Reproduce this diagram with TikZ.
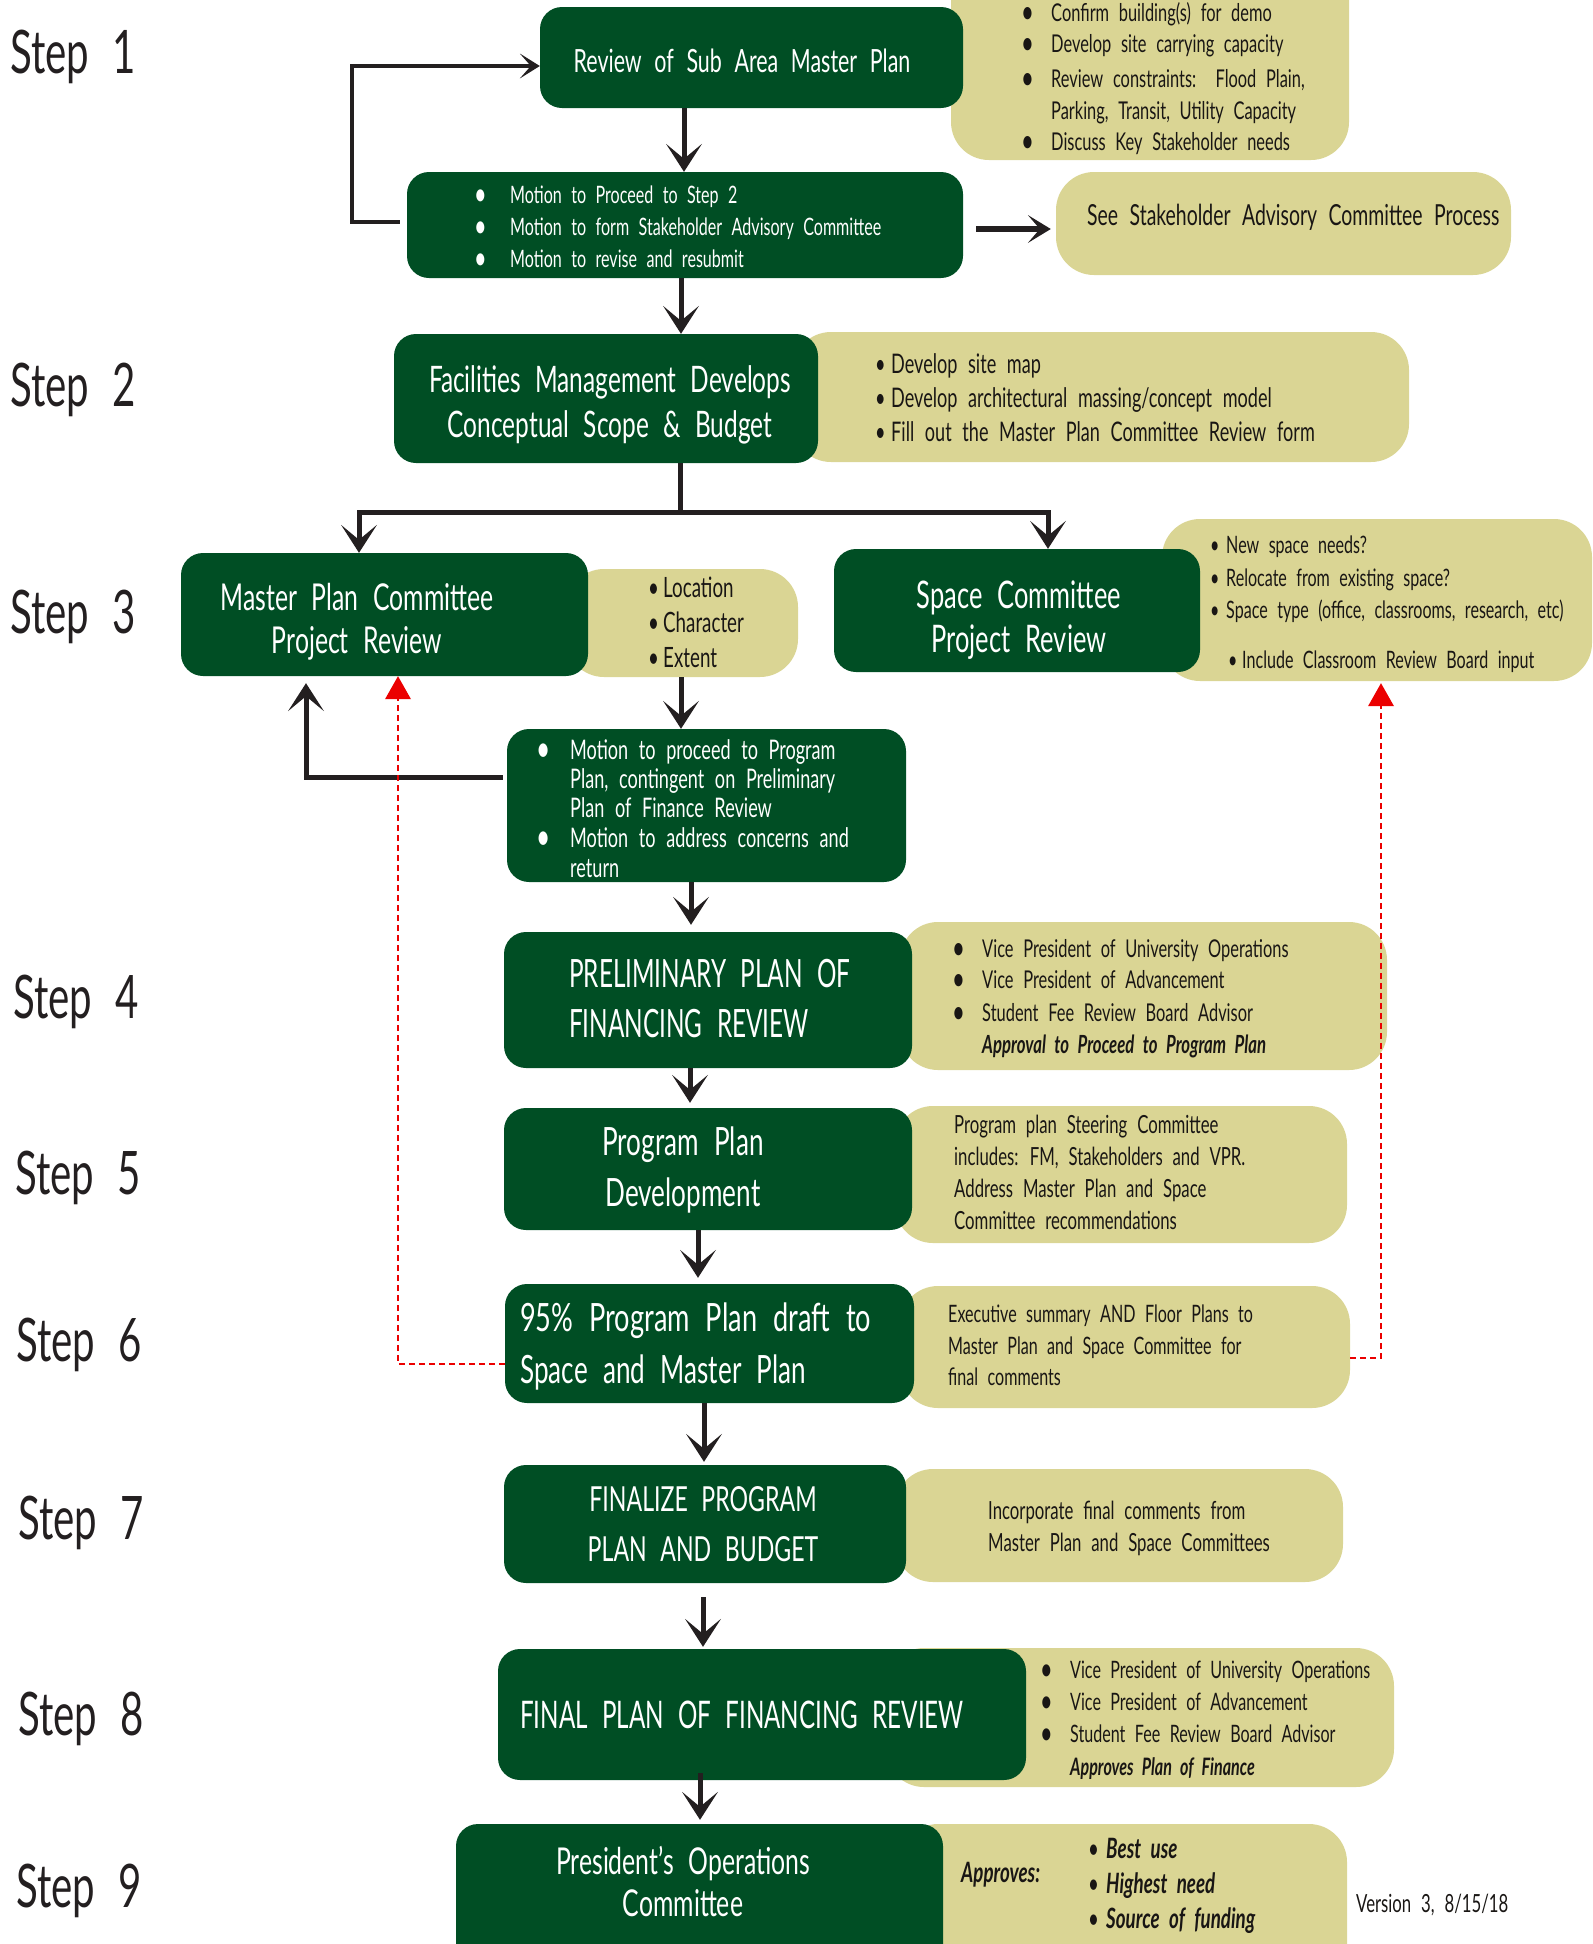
\documentclass[tikz,border=0pt]{standalone}
\usepackage{fontspec}
\setmainfont{Lato}[FakeStretch=0.67, WordSpace=2.3]
\usetikzlibrary{arrows.meta}
\definecolor{gfill}{RGB}{0,78,36}
\definecolor{tfill}{RGB}{218,213,148}
\definecolor{arrcol}{RGB}{35,31,32}
\definecolor{ktext}{RGB}{25,22,20}
\definecolor{stepcol}{RGB}{35,31,32}
\definecolor{redarr}{RGB}{235,0,0}
\newcommand\rbox[6]{\node[#1, minimum width={(#5-(#3))*1pt}, minimum height={(#6-(#4))*1pt}] (#2) at ({(#3+#5)/2},{(#4+(#6))/2}) {};}
\newcommand\tx[6]{\node[#1, font=\fontsize{#5}{#5}\selectfont] (#2) at (#3,#4) {#6};}
\newcommand\bul[2]{\makebox[#1pt][l]{\raisebox{-0.1em}{\scalebox{1.35}{\textbullet}}}#2}
\newcommand\sbul[2]{\makebox[#1pt][l]{\textbullet}#2}
\newcommand\bi[1]{{\bfseries\itshape #1}}
\tikzset{
  gbox/.style={fill=gfill, rounded corners=22pt, inner sep=0pt, draw=none},
  tbox/.style={fill=tfill, rounded corners=38pt, inner sep=0pt, draw=none},
  wl/.style={text=white, anchor=base west, inner sep=0pt},
  wc/.style={text=white, anchor=base, inner sep=0pt},
  kl/.style={text=ktext, anchor=base west, inner sep=0pt},
  steplbl/.style={text=stepcol, anchor=base west, inner sep=0pt},
  plainline/.style={draw=arrcol, line width=5pt},
  arr/.style={draw=arrcol, line width=5pt, -{Stealth[length=28pt,width=36pt,inset=15pt,line width=0pt]}},
  sarr/.style={draw=arrcol, line width=4pt, -{Stealth[length=20pt,width=25pt,inset=11pt,line width=0pt]}},
  sarrb/.style={draw=arrcol, line width=5.5pt, -{Stealth[length=23pt,width=28pt,inset=12pt,line width=0pt]}},
  rarr/.style={draw=redarr, line width=2.2pt, dash pattern=on 6pt off 4pt, -{Triangle[length=23pt,width=26pt,line width=0pt]}}
}
\begin{document}
\begin{tikzpicture}[x=1pt,y=-1pt]
\useasboundingbox (0,0) rectangle (1593,1944);
% step labels
\tx{steplbl}{s1}{10}{73}{60}{Step 1}
\tx{steplbl}{s2}{10}{406}{60}{Step 2}
\tx{steplbl}{s3}{10}{633}{60}{Step 3}
\tx{steplbl}{s4}{13}{1018}{60}{Step 4}
\tx{steplbl}{s5}{15}{1194}{60}{Step 5}
\tx{steplbl}{s6}{16}{1361}{60}{Step 6}
\tx{steplbl}{s7}{18}{1539}{60}{Step 7}
\tx{steplbl}{s8}{18}{1735}{60}{Step 8}
\tx{steplbl}{s9}{16}{1907}{60}{Step 9}
% tan boxes (behind)
\rbox{tbox}{T1}{951}{-40}{1349}{160}
\rbox{tbox}{T2}{1056}{172}{1511}{275}
\rbox{tbox}{T3}{793}{332}{1409}{462}
\rbox{tbox}{T4}{566}{569}{798}{677}
\rbox{tbox}{T5}{1162}{519}{1592}{681}
\rbox{tbox}{T6}{900}{922}{1387}{1070}
\rbox{tbox}{T7}{895}{1106}{1347}{1243}
\rbox{tbox}{T8}{900}{1286}{1350}{1408}
\rbox{tbox}{T9}{895}{1469}{1343}{1582}
\rbox{tbox}{T10}{886}{1648}{1394}{1787}
\rbox{tbox}{T11}{900}{1824}{1347}{1990}
% green boxes
\rbox{gbox}{A}{540}{7}{963}{108}
\rbox{gbox}{B}{407}{172}{963}{278}
\rbox{gbox}{C}{394}{334}{818}{463}
\rbox{gbox}{D}{181}{553}{588}{676}
\rbox{gbox}{E}{834}{549}{1200}{672}
\rbox{gbox}{F}{507}{729}{906}{882}
\rbox{gbox}{G}{504}{932}{912}{1068}
\rbox{gbox}{I}{504}{1108}{912}{1230}
\rbox{gbox}{H}{505}{1284}{914}{1403}
\rbox{gbox}{J}{504}{1465}{906}{1583}
\rbox{gbox}{K}{498}{1649}{1026}{1780}
\rbox{gbox}{L}{456}{1824}{943}{1990}
% texts step 1
\tx{wc}{a1}{742}{72}{32}{Review of Sub Area Master Plan}
\tx{kl}{t1a}{1021}{21}{24.5}{\bul{30}{Confirm building(s) for demo}}
\tx{kl}{t1b}{1021}{52}{24.5}{\bul{30}{Develop site carrying capacity}}
\tx{kl}{t1c}{1021}{87}{24.5}{\bul{30}{Review constraints:\ \ Flood Plain,}}
\tx{kl}{t1d}{1051}{119}{24.5}{Parking, Transit, Utility Capacity}
\tx{kl}{t1e}{1021}{150}{24.5}{\bul{30}{Discuss Key Stakeholder needs}}
\tx{wl}{b1}{474}{203}{24}{\bul{36}{Motion to Proceed to Step 2}}
\tx{wl}{b2}{474}{235}{24}{\bul{36}{Motion to form Stakeholder Advisory Committee}}
\tx{wl}{b3}{474}{267}{24}{\bul{36}{Motion to revise and resubmit}}
\tx{kl}{t2a}{1087}{225}{29}{See Stakeholder Advisory Committee Process}
% step 2
\tx{wc}{c1}{610}{392}{36.5}{Facilities Management Develops}
\tx{wc}{c2}{610}{437}{36.5}{Conceptual Scope \& Budget}
\tx{kl}{t3a}{875}{373}{27}{\sbul{16}{Develop site map}}
\tx{kl}{t3b}{875}{407}{27}{\sbul{16}{Develop architectural massing/concept model}}
\tx{kl}{t3c}{875}{441}{27}{\sbul{16}{Fill out the Master Plan Committee Review form}}
% step 3
\tx{wc}{d1}{357}{610}{37}{Master Plan Committee}
\tx{wc}{d2}{357}{653}{37}{Project Review}
\tx{kl}{t4a}{648}{597}{28}{\sbul{15}{Location}}
\tx{kl}{t4b}{648}{632}{28}{\sbul{15}{Character}}
\tx{kl}{t4c}{648}{667}{28}{\sbul{15}{Extent}}
\tx{wc}{e1}{1019}{608}{38}{Space Committee}
\tx{wc}{e2}{1019}{652}{38}{Project Review}
\tx{kl}{t5a}{1210}{553}{24}{\sbul{16}{New space needs?}}
\tx{kl}{t5b}{1210}{586}{24}{\sbul{16}{Relocate from existing space?}}
\tx{kl}{t5c}{1210}{618}{24}{\sbul{16}{Space type (office, classrooms, research, etc)}}
\tx{kl}{t5d}{1228}{668}{24}{\sbul{14}{Include Classroom Review Board input}}
\tx{wl}{f1}{536}{759}{27}{\bul{34}{Motion to proceed to Program}}
\tx{wl}{f2}{570}{788}{27}{Plan, contingent on Preliminary}
\tx{wl}{f3}{570}{817}{27}{Plan of Finance Review}
\tx{wl}{f4}{536}{847}{27}{\bul{34}{Motion to address concerns and}}
\tx{wl}{f5}{570}{877}{27}{return}
% step 4
\tx{wl}{g1}{569}{987}{39}{\scalebox{0.93}[1]{PRELIMINARY PLAN OF}}
\tx{wl}{g2}{569}{1037}{39}{\scalebox{0.93}[1]{FINANCING REVIEW}}
\tx{kl}{t6a}{952}{957}{24.5}{\bul{30}{Vice President of University Operations}}
\tx{kl}{t6b}{952}{988}{24.5}{\bul{30}{Vice President of Advancement}}
\tx{kl}{t6c}{952}{1021}{24.5}{\bul{30}{Student Fee Review Board Advisor}}
\tx{kl}{t6d}{982}{1053}{25}{\bi{Approval to Proceed to Program Plan}}
% step 5
\tx{wc}{i1}{683}{1155}{39}{Program Plan}
\tx{wc}{i2}{683}{1206}{39}{Development}
\tx{kl}{t7a}{954}{1133}{25}{Program plan Steering Committee}
\tx{kl}{t7b}{954}{1165}{25}{includes: FM, Stakeholders and VPR.}
\tx{kl}{t7c}{954}{1197}{25}{Address Master Plan and Space}
\tx{kl}{t7d}{954}{1229}{25}{Committee recommendations}
% step 6
\tx{wl}{h1}{520}{1331}{39}{\scalebox{1.04}[1]{95\% Program Plan draft to}}
\tx{wl}{h2}{520}{1383}{39}{Space and Master Plan}
\tx{kl}{t8a}{948}{1322}{24}{Executive summary AND Floor Plans to}
\tx{kl}{t8b}{948}{1354}{24}{Master Plan and Space Committee for}
\tx{kl}{t8c}{948}{1385}{24}{final comments}
% step 7
\tx{wc}{j1}{703}{1511}{34.5}{FINALIZE PROGRAM}
\tx{wc}{j2}{703}{1561}{34.5}{PLAN AND BUDGET}
\tx{kl}{t9a}{988}{1519}{25}{Incorporate final comments from}
\tx{kl}{t9b}{988}{1551}{25}{Master Plan and Space Committees}
% step 8
\tx{wl}{k1}{520}{1728}{38}{\scalebox{0.95}[1]{FINAL PLAN OF FINANCING REVIEW}}
\tx{kl}{t10a}{1040}{1678}{24}{\bul{30}{Vice President of University Operations}}
\tx{kl}{t10b}{1040}{1710}{24}{\bul{30}{Vice President of Advancement}}
\tx{kl}{t10c}{1040}{1742}{24}{\bul{30}{Student Fee Review Board Advisor}}
\tx{kl}{t10d}{1070}{1775}{24}{\bi{Approves Plan of Finance}}
% step 9
\tx{wc}{l1}{683}{1874}{37}{President’s Operations}
\tx{wc}{l2}{683}{1916}{37}{Committee}
\tx{kl}{t11a}{961}{1882}{28}{\bi{Approves:}}
\tx{kl}{t11b}{1088}{1858}{28}{\sbul{18}{\bi{Best use}}}
\tx{kl}{t11c}{1088}{1893}{28}{\sbul{18}{\bi{Highest need}}}
\tx{kl}{t11d}{1088}{1928}{28}{\sbul{18}{\bi{Source of funding}}}
\tx{kl}{ver}{1356}{1912}{25}{Version 3, 8/15/18}
% column coordinates
\coordinate (c1) at (684,0);
\coordinate (c2) at (681,0);
\coordinate (sp) at (680,512);
\coordinate (sl) at (359,512);
\coordinate (sr) at (1048,512);
\coordinate (c3) at (681,0);
\coordinate (fb) at (306,0);
\coordinate (rl) at (398,0);
\coordinate (rr) at (1381,0);
\coordinate (c4) at (691,0);
\coordinate (c5) at (690,0);
\coordinate (c6) at (698,0);
\coordinate (c7) at (704,0);
\coordinate (c8) at (703,0);
\coordinate (c9) at (700,0);
% connectors
\draw[arr] (A.south -| c1) -- (B.north -| c1);
\draw[sarr] ([xshift=-7pt,yshift=3pt]B.west) -- ++(-48,0) |- ([yshift=-8.5pt]A.west);
\draw[sarrb, shorten >=5pt] ([xshift=13pt,yshift=-4pt]B.east) -- ([yshift=-4pt]B.east -| T2.west);
\draw[arr] (B.south -| c2) -- (C.north -| c2);
\draw[plainline] (C.south -| sp) -- (sp);
\draw[arr] (sp) -| (D.north -| sl);
\draw[arr] (sp) -| (E.north -| sr);
\draw[arr] (T4.south -| c3) -- (F.north -| c3);
\draw[arr] ([xshift=-4pt,yshift=28pt]F.west) -| ([yshift=-7pt]D.south -| fb);
\draw[rarr] ([yshift=-20.5pt]H.west) -| (D.south -| rl);
\draw[rarr] ([yshift=-11pt]T8.east) -| ([yshift=-2pt]T5.south -| rr);
\draw[arr, shorten >=7pt] (F.south -| c4) -- (G.north -| c4);
\draw[arr, shorten >=5pt] (G.south -| c5) -- (I.north -| c5);
\draw[arr, shorten >=6pt] (I.south -| c6) -- (H.north -| c6);
\draw[arr, shorten >=3pt] (H.south -| c7) -- (J.north -| c7);
\draw[arr, shorten <=14pt, shorten >=2pt] (J.south -| c8) -- (K.north -| c8);
\draw[arr, shorten >=4pt] ([yshift=7pt]K.south -| c9) -- (L.north -| c9);
\end{tikzpicture}
\end{document}
